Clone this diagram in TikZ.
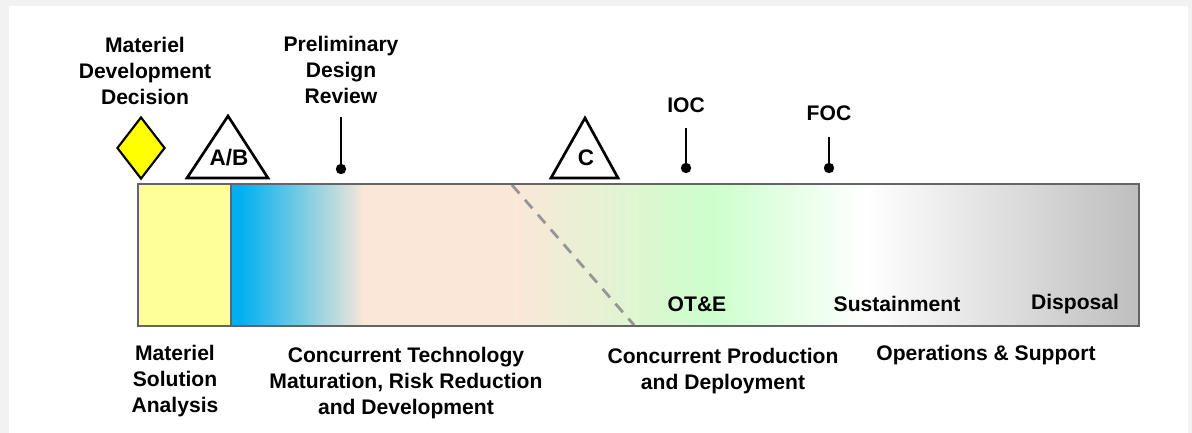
\documentclass[tikz,border=0pt]{standalone}
\usepackage{fontspec}
\setmainfont{Liberation Sans}
\usepackage{xcolor}
\definecolor{frame-gray}{RGB}{242,242,242}
\definecolor{msa-yellow}{RGB}{255,255,153}
\definecolor{mdd-yellow}{RGB}{255,255,0}
\definecolor{tmrr-blue}{RGB}{0,176,240}
\definecolor{tmrr-fade}{RGB}{222,226,218}
\definecolor{emd-peach}{RGB}{251,231,216}
\definecolor{pd-green}{RGB}{204,255,204}
\definecolor{os-gray}{RGB}{190,190,190}
\definecolor{bar-edge}{RGB}{100,100,100}
\definecolor{dash-gray}{RGB}{150,150,150}
\usetikzlibrary{shapes.geometric,positioning}

% Phase colours along the bar (25bp..75bp spans the shaded part)
\pgfdeclarehorizontalshading{lifecycle}{100bp}{
    color(0bp)=(tmrr-blue); color(25bp)=(tmrr-blue); color(25.5bp)=(tmrr-blue);
    color(31.7bp)=(tmrr-fade); color(32.3bp)=(emd-peach); color(40.4bp)=(emd-peach);
    color(51.5bp)=(pd-green); color(60bp)=(white); color(75bp)=(os-gray);
    color(100bp)=(os-gray)}

\begin{document}
\begin{tikzpicture}[
    x=0.025cm, y=-0.025cm,
    every node/.style={inner sep=0pt},
    phase/.style={font=\bfseries\fontsize{15}{18.5}\selectfont, align=center},
    milestone/.style={circle, fill=black, minimum size=0.26cm},
    stem/.style={line width=1.5pt},
    gate/.style={draw=black, line width=1.9pt, fill=white, line join=miter}
]

% Page frame
\useasboundingbox (0,0) rectangle (1192,433);
\fill[frame-gray] (0,0) rectangle (1192,433);
\fill[white] (9,6) rectangle (1188,433);

% Life cycle bar
\shade[shading=lifecycle] (231,184) rectangle (1139,326);
\fill[msa-yellow] (138,184) rectangle (231,326);
\coordinate (cut-top) at (512,185);
\coordinate (cut-bot) at (634,325);
\draw[dash-gray, line width=2pt, dash pattern=on 8pt off 6pt] (cut-top) -- (cut-bot);
\draw[bar-edge, line width=1.3pt] (231,184) -- (231,326);
\node[draw=bar-edge, line width=1.4pt, minimum width=25.025cm, minimum height=3.55cm] (bar) at (638.5,255) {};

% Labels inside the bar
\node[phase] (ote) at (697,304) {OT\&E};
\node[phase] (sustain) at (897,304) {Sustainment};
\node[phase] (dispose) at (1075,304) {Disposal};

% Materiel Development Decision
\node[phase] (mdd-label) at (145,71) {Materiel\\Development\\Decision};
\node[diamond, draw=black, line width=1.5pt, fill=mdd-yellow,
    minimum width=1.2cm, minimum height=1.55cm] (mdd) at (141,148) {};

% Milestone A/B and C gates
\draw[gate] (187,178) -- (228,116) -- (268,178) -- cycle;
\node[phase, font=\bfseries\fontsize{16}{18}\selectfont] (ms-ab) at (229,158) {A/B};
\draw[gate] (551,178) -- (585,118) -- (618,178) -- cycle;
\node[phase, font=\bfseries\fontsize{16}{18}\selectfont] (ms-c) at (586,158) {C};

% Reviews and capability markers
\node[phase] (pdr-label) at (341,70) {Preliminary\\Design\\Review};
\node[milestone] (pdr) at (341,169) {};
\coordinate (pdr-top) at (341,117);
\draw[stem] (pdr-top) -- (pdr);

\node[phase] (ioc-label) at (686,105) {IOC};
\node[milestone] (ioc) at (686,168) {};
\coordinate (ioc-top) at (686,128);
\draw[stem] (ioc-top) -- (ioc);

\node[phase] (foc-label) at (829,113) {FOC};
\node[milestone] (foc) at (829,168) {};
\coordinate (foc-top) at (829,137);
\draw[stem] (foc-top) -- (foc);

% Phase names below the bar
\node[phase] (msa) at (175,381) {Materiel\\Solution\\Analysis};
\node[phase] (tmrr) at (406,383) {Concurrent Technology\\Maturation, Risk Reduction\\and Development};
\node[phase] (pd) at (723,371) {Concurrent Production\\and Deployment};
\node[phase] (os) at (986,355) {Operations \& Support};

\end{tikzpicture}
\end{document}
